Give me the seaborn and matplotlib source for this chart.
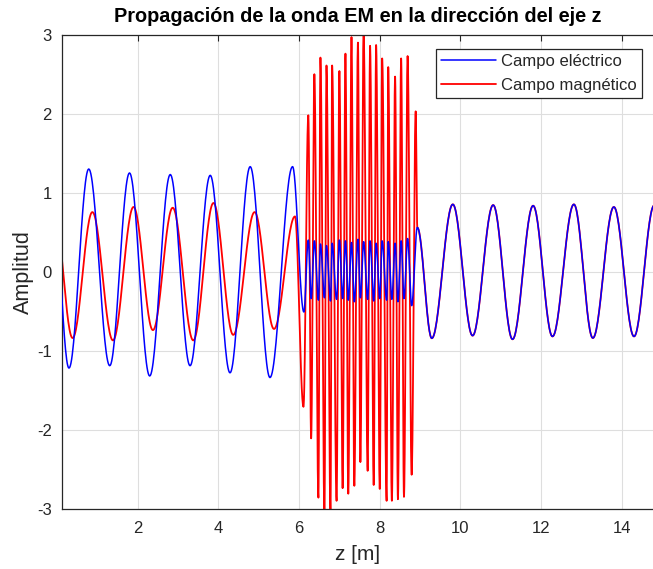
import numpy as np
import pandas as pd
import matplotlib
matplotlib.use("Agg")
import matplotlib.pyplot as plt
import seaborn as sns

# ---------------- data ----------------
# extrema (z position, value) of the electric field, left to right
E_z = [-0.13, 0.30, 0.79, 1.31, 1.80, 2.30, 2.81, 3.30, 3.80, 4.29, 4.79, 5.28, 5.84,
       6.12, 6.23, 6.30, 6.38, 6.48, 6.53, 6.63, 6.68, 6.78, 6.82, 6.93, 7.00, 7.08, 7.15,
       7.22, 7.30, 7.37, 7.46, 7.52, 7.60, 7.70, 7.76, 7.85, 7.91, 8.00, 8.06, 8.17, 8.21,
       8.30, 8.38, 8.45, 8.53, 8.60, 8.69, 8.79, 8.93,
       9.29, 9.81, 10.30, 10.81, 11.29, 11.80, 12.28, 12.81, 13.28, 13.80, 14.30, 14.80]
E_v = [1.28, -1.22, 1.30, -1.19, 1.25, -1.32, 1.23, -1.19, 1.22, -1.28, 1.33, -1.34, 1.33,
       -0.51, 0.40, -0.34, 0.39, -0.36, 0.35, -0.33, 0.33, -0.37, 0.36, -0.35, 0.40, -0.34, 0.39,
       -0.36, 0.37, -0.38, 0.41, -0.33, 0.38, -0.35, 0.39, -0.37, 0.36, -0.34, 0.39, -0.36, 0.38,
       -0.35, 0.36, -0.38, 0.39, -0.34, 0.42, -0.43, 0.56,
       -0.843, 0.853, -0.81, 0.844, -0.856, 0.836, -0.82, 0.853, -0.84, 0.82, -0.82, 0.84]

# extrema (z position, value) of the magnetic field, left to right
H_z = [-0.07, 0.39, 0.88, 1.39, 1.90, 2.38, 2.87, 3.38, 3.88, 4.37, 4.90, 5.38, 5.90,
       6.11, 6.23, 6.30, 6.38, 6.48, 6.53, 6.63, 6.68, 6.78, 6.82, 6.93, 7.00, 7.08, 7.15,
       7.22, 7.30, 7.37, 7.46, 7.52, 7.60, 7.70, 7.76, 7.85, 7.91, 8.00, 8.06, 8.17, 8.21,
       8.30, 8.38, 8.45, 8.53, 8.60, 8.69, 8.79, 8.89, 8.93,
       9.29, 9.81, 10.30, 10.81, 11.29, 11.80, 12.28, 12.81, 13.28, 13.80, 14.30, 14.80]
H_v = [0.78, -0.84, 0.755, -0.87, 0.82, -0.74, 0.81, -0.87, 0.87, -0.80, 0.755, -0.725, 0.70,
       -1.71, 1.98, -2.11, 2.50, -2.86, 2.71, -3.05, 2.61, -3.05, 2.61, -2.90, 2.54, -2.74, 2.76,
       -2.81, 2.97, -2.71, 2.90, -2.41, 3.05, -2.52, 2.86, -2.70, 2.87, -2.75, 2.70, -2.90, 2.59,
       -2.90, 2.47, -2.88, 2.70, -2.85, 2.73, -2.57, 2.03, 0.56,
       -0.843, 0.853, -0.81, 0.844, -0.856, 0.836, -0.82, 0.853, -0.84, 0.82, -0.82, 0.84]

series_names = ["Campo eléctrico", "Campo magnético"]
x_ticks = [2, 4, 6, 8, 10, 12, 14]
y_ticks = [-3, -2, -1, 0, 1, 2, 3]


def smooth_through(zs, vs, n=30):
    """Half-cosine arcs between consecutive extrema (wave shape)."""
    out_z, out_v = [], []
    t = np.linspace(0.0, 1.0, n, endpoint=False)
    for i in range(len(zs) - 1):
        za, zb, va, vb = zs[i], zs[i + 1], vs[i], vs[i + 1]
        out_z.append(za + (zb - za) * t)
        out_v.append(0.5 * (va + vb) + 0.5 * (va - vb) * np.cos(np.pi * t))
    out_z.append([zs[-1]])
    out_v.append([vs[-1]])
    return np.concatenate(out_z), np.concatenate(out_v)


ez, ev = smooth_through(E_z, E_v)
hz, hv = smooth_through(H_z, H_v)
df_e = pd.DataFrame({"z": ez, "amp": ev})
df_h = pd.DataFrame({"z": hz, "amp": hv})

# ---------------- styling ----------------
sns.set_theme(style="white")
plt.rcParams["font.family"] = ["Liberation Sans", "DejaVu Sans"]
plt.rcParams["axes.unicode_minus"] = False
ink = "#262626"

W, H = 653, 569
fig = plt.figure(figsize=(W / 100, H / 100), dpi=100)
left, right, top, bottom = 61.7, 653.0, 34.7, 508.7
ax = fig.add_axes([left / W, 1 - bottom / H, (right - left) / W, (bottom - top) / H])

sns.lineplot(data=df_h, x="z", y="amp", sort=False, estimator=None, color=(1, 0, 0),
             linewidth=1.3, ax=ax, zorder=2)
sns.lineplot(data=df_e, x="z", y="amp", sort=False, estimator=None, color=(0, 0, 1),
             linewidth=1.1, ax=ax, zorder=3)

ax.set_xlim(0.12, 14.77)
ax.set_ylim(-3, 3)
ax.set_xticks(x_ticks)
ax.set_yticks(y_ticks)
ax.grid(True, color="#dedede", linewidth=0.8)
ax.set_axisbelow(True)
for s in ["left", "bottom", "top"]:
    ax.spines[s].set_color(ink)
    ax.spines[s].set_linewidth(0.9)
ax.spines["right"].set_visible(False)
ax.tick_params(axis="x", which="both", direction="in", length=4, width=0.8,
               colors=ink, labelsize=12, top=True, pad=9)
ax.tick_params(axis="y", which="both", direction="in", length=4, width=0.8,
               colors=ink, labelsize=12, right=False, pad=7)

ax.set_title("Propagación de la onda EM en la dirección del eje z", fontsize=14.3,
             fontweight="bold", color="black", pad=9)
ax.set_xlabel("z [m]", fontsize=15, color=ink, labelpad=6)
ax.set_ylabel("Amplitud", fontsize=15.5, color=ink, labelpad=2)

lines = [ax.lines[1], ax.lines[0]]
leg = ax.legend(lines, series_names, loc="upper right",
                bbox_to_anchor=(642 / W, 1 - 49.3 / H), bbox_transform=fig.transFigure,
                borderaxespad=0, fontsize=12, frameon=True, fancybox=False,
                handlelength=3.3, handletextpad=0.3, labelspacing=0.5,
                borderpad=0.3)
leg.get_frame().set_edgecolor(ink)
leg.get_frame().set_linewidth(0.9)
leg.get_frame().set_alpha(1)

fig.savefig("out.png", dpi=100)
